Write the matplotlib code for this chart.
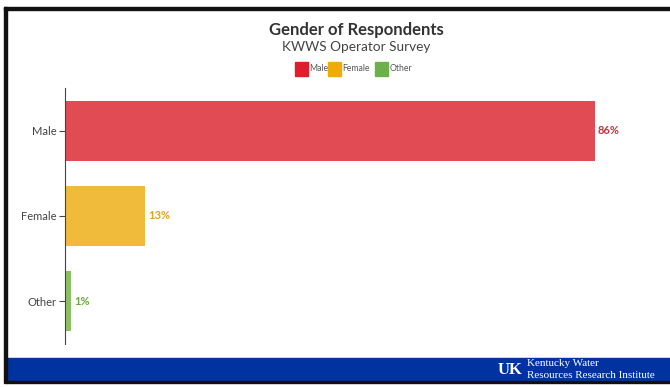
import matplotlib
matplotlib.use('Agg')
import matplotlib.pyplot as plt
from matplotlib.patches import Rectangle

plt.rcParams['font.family'] = ['Lato', 'DejaVu Sans']

# data
categories = ['Male', 'Female', 'Other']
shares = [86, 13, 1]
bar_colors = ['#e04b54', '#f0bb3a', '#8bc060']
legend_colors = ['#dd1f2b', '#f0aa0a', '#6cb04a']
label_colors = ['#c9323d', '#e3a41c', '#6aa83c']

W, H = 670, 387
fig = plt.figure(figsize=(W / 100, H / 100), dpi=100)


def fx(px):
    return px / W


def fy(py):
    return 1 - py / H


# frame and banner
fig.patches.append(Rectangle((fx(4), fy(383)), fx(3), 376 / H, color='#111111',
                             transform=fig.transFigure, zorder=5))
fig.patches.append(Rectangle((fx(4), fy(10)), 1, 3 / H, color='#111111',
                             transform=fig.transFigure, zorder=5))
fig.patches.append(Rectangle((fx(7), fy(381)), 1, 23 / H, color='#0033a0',
                             transform=fig.transFigure, zorder=4))
fig.patches.append(Rectangle((fx(7), fy(383)), 1, 2 / H, color='#111111',
                             transform=fig.transFigure, zorder=5))
fig.text(fx(510), fy(370), 'UK', color='white', fontsize=12, fontweight='bold',
         family='Liberation Serif', ha='center', va='center', zorder=6)
fig.text(fx(527), fy(364), 'Kentucky Water', color='white', fontsize=8,
         family='Liberation Serif', ha='left', va='center', zorder=6)
fig.text(fx(527), fy(375), 'Resources Research Institute', color='white', fontsize=8,
         family='Liberation Serif', ha='left', va='center', zorder=6)

# titles
fig.text(fx(356), fy(30), 'Gender of Respondents', fontsize=12, fontweight='bold',
         color='#333333', ha='center', va='center')
fig.text(fx(356), fy(47), 'KWWS Operator Survey', fontsize=9.8,
         color='#444444', ha='center', va='center')

# legend
sq_x = [295, 328, 375]
for i, name in enumerate(categories):
    fig.patches.append(Rectangle((fx(sq_x[i]), fy(75.5)), fx(13), 13 / H,
                                 color=legend_colors[i], transform=fig.transFigure))
    fig.text(fx(sq_x[i] + 14.5), fy(68.5), name, fontsize=6.2, color='#555555',
             ha='left', va='center')

# axes
xmax = 90
ax = fig.add_axes([fx(65), fy(344), fx(65 + xmax * 530 / 86) - fx(65), (344 - 88) / H])
ypos = list(range(len(categories)))
ax.barh(ypos, shares, height=0.7, color=bar_colors)
for y, v, c in zip(ypos, shares, label_colors):
    ax.text(v + 0.5, y, f'{v}%', color=c, fontsize=8, fontweight='bold',
            ha='left', va='center')
ax.set_ylim(2.5, -0.5)
ax.set_xlim(0, xmax)
ax.set_yticks(ypos)
ax.set_yticklabels(categories, fontsize=8, color='#444444')
ax.tick_params(axis='y', length=4, color='#444444', pad=2)
ax.set_xticks([])
for s in ['top', 'right', 'bottom']:
    ax.spines[s].set_visible(False)
ax.spines['left'].set_color('#444444')

fig.savefig('out.png', dpi=100)
